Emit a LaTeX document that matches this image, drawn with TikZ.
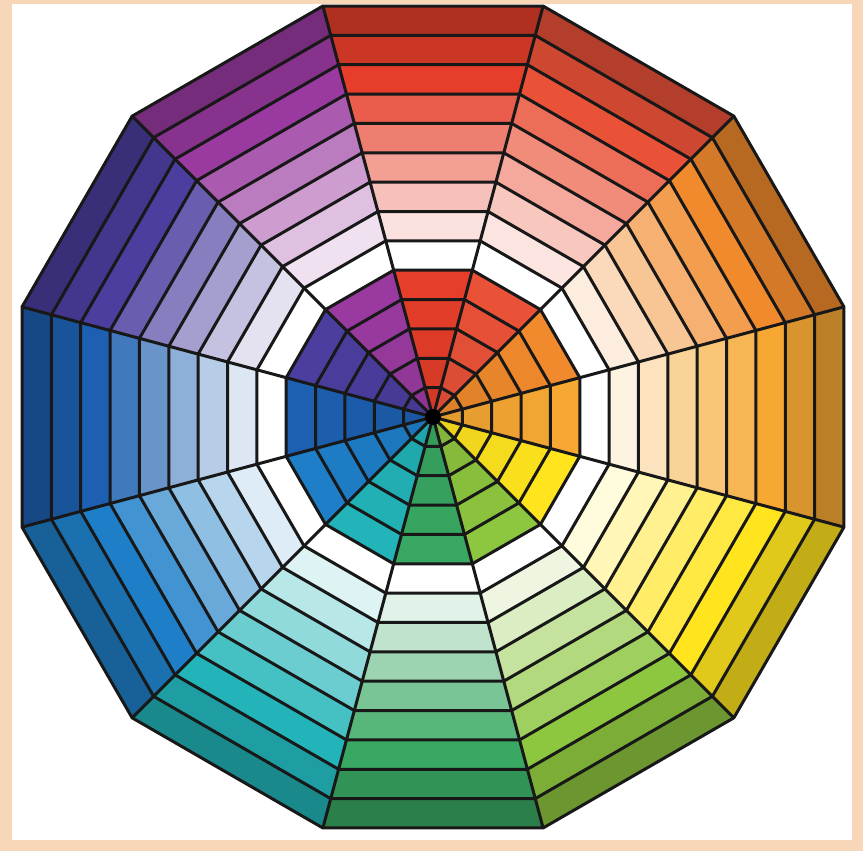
\documentclass[tikz,border=0pt]{standalone}
\usepackage{tikz}
\definecolor{peach}{HTML}{F8D6B8}
\definecolor{linec}{HTML}{181818}
\definecolor{s0}{HTML}{E63E2A}
\definecolor{s1}{HTML}{EA5238}
\definecolor{s2}{HTML}{F18A2C}
\definecolor{s3}{HTML}{F6A833}
\definecolor{s4}{HTML}{FFE41E}
\definecolor{s5}{HTML}{8DC63F}
\definecolor{s6}{HTML}{38A862}
\definecolor{s7}{HTML}{22B4B8}
\definecolor{s8}{HTML}{1E7FC8}
\definecolor{s9}{HTML}{1D5FB0}
\definecolor{s10}{HTML}{4B3E9F}
\definecolor{s11}{HTML}{9A3AA0}
\tikzset{gridline/.style={draw=linec, line width=0.03cm, line join=round}}
\begin{document}
\begin{tikzpicture}[x=0.01cm,y=0.01cm]
\useasboundingbox (-433,-434) rectangle (430,417);
\fill[peach] (-433,-434) rectangle (430,417);
\fill[white] (-421,-423) rectangle (419,413);
\def\s{29.357}
\foreach \c [count=\k from 0] in {s0,s1,s2,s3,s4,s5,s6,s7,s8,s9,s10,s11} {
  \pgfmathsetmacro\tA{105-30*\k}
  \pgfmathsetmacro\tB{75-30*\k}
  \foreach \j/\p/\b in {1/92/black,2/94/black,3/96/black,4/98/black,5/100/black,
                        7/15/white,8/32/white,9/50/white,10/67/white,11/84/white,
                        12/100/white,13/88/black,14/76/black} {
    \fill[\c!\p!\b] (\tA:{(\j-1)*\s/cos(15)}) -- (\tA:{\j*\s/cos(15)})
       -- (\tB:{\j*\s/cos(15)}) -- (\tB:{(\j-1)*\s/cos(15)}) -- cycle;
  }
}
\foreach \j in {1,...,14} {
  \draw[gridline] (15:{\j*\s/cos(15)}) \foreach \i in {1,...,11} { -- ({15+30*\i}:{\j*\s/cos(15)}) } -- cycle;
}
\foreach \i in {0,...,11} {
  \draw[gridline] (0,0) -- ({15+30*\i}:{14*\s/cos(15)});
}
\fill[black] (0,0) circle (8);
\end{tikzpicture}
\end{document}
